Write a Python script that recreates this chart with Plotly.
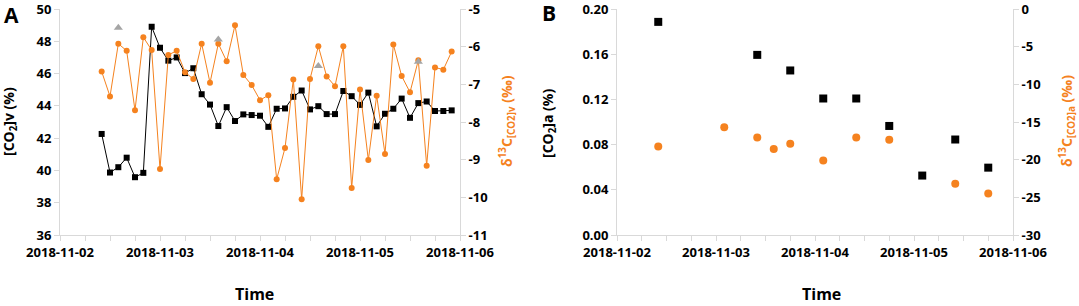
import plotly.graph_objects as go
import pandas as pd

# ---------------- Panel A data ----------------
a_times = pd.date_range("2018-11-02 10:00", "2018-11-05 22:00", freq="2h")
a_co2v = [42.26, 39.87, 40.2, 40.79, 39.58, 39.85, 48.9, 47.6, 46.8, 47.0,
          46.03, 46.33, 44.72, 44.08, 42.75, 43.92, 43.06, 43.47, 43.43, 43.39,
          42.7, 43.82, 43.84, 44.56, 44.95, 43.78, 43.98, 43.49, 43.49, 44.92,
          44.6, 44.06, 44.82, 42.73, 43.51, 43.82, 44.45, 43.26, 44.17, 44.27,
          43.68, 43.68, 43.72]
a_d13c = [-6.66, -7.32, -5.92, -6.11, -7.69, -5.75, -6.09, -9.25, -6.22, -6.11,
          -6.68, -6.86, -5.92, -6.96, -5.92, -6.39, -5.43, -6.75, -7.02, -7.42,
          -7.29, -9.52, -8.69, -6.87, -10.05, -6.86, -5.99, -6.79, -7.05, -5.99,
          -9.75, -7.14, -9.01, -7.30, -8.85, -5.94, -6.78, -7.21, -6.36, -9.16,
          -6.55, -6.61, -6.13]
tri_times = pd.to_datetime(["2018-11-02 14:00", "2018-11-03 14:00",
                            "2018-11-04 14:00", "2018-11-05 14:00"])
tri_vals = [-5.5, -5.81, -6.51, -6.40]

# ---------------- Panel B data ----------------
b_times = pd.to_datetime(["2018-11-02 10:00", "2018-11-03 02:00", "2018-11-03 10:00",
                          "2018-11-03 14:00", "2018-11-03 18:00", "2018-11-04 02:00",
                          "2018-11-04 10:00", "2018-11-04 18:00", "2018-11-05 02:00",
                          "2018-11-05 10:00", "2018-11-05 18:00"])
b_co2a = [0.1886, None, 0.1594, None, 0.1456, 0.1208, 0.1208, 0.0965, 0.0526,
          0.0845, 0.0596]
b_d13c = [-18.25, -15.7, -17.07, -18.6, -17.9, -20.1, -17.07, -17.37, None,
          -23.2, -24.5]

ORANGE = "#f5821f"
GRAY_AX = "#d9d9d9"
FONT = "Open Sans"

fig = go.Figure()
fig.add_trace(go.Scatter(x=a_times, y=a_co2v, mode="lines+markers",
                         line=dict(color="black", width=1),
                         marker=dict(symbol="square", size=6, color="black"),
                         xaxis="x", yaxis="y", showlegend=False))
fig.add_trace(go.Scatter(x=a_times, y=a_d13c, mode="lines+markers",
                         line=dict(color=ORANGE, width=1),
                         marker=dict(symbol="circle", size=6, color=ORANGE),
                         xaxis="x", yaxis="y2", showlegend=False))
fig.add_trace(go.Scatter(x=tri_times, y=tri_vals, mode="markers",
                         marker=dict(symbol="triangle-up", size=8, color="#a5a5a5"),
                         xaxis="x", yaxis="y2", showlegend=False))
fig.add_trace(go.Scatter(x=b_times, y=b_co2a, mode="markers",
                         marker=dict(symbol="square", size=8, color="black"),
                         xaxis="x2", yaxis="y3", showlegend=False))
fig.add_trace(go.Scatter(x=b_times, y=b_d13c, mode="markers",
                         marker=dict(symbol="circle", size=8, color=ORANGE),
                         xaxis="x2", yaxis="y4", showlegend=False))

W, H = 1079, 306
T, B = 9, 71
PH = H - T - B

def fx(px):
    return px / W

def fy(py):
    return (H - B - py) / PH

tickfont = dict(family=FONT, size=13, color="black", weight="bold")
common_ax = dict(showgrid=False, zeroline=False, showline=True, linecolor=GRAY_AX,
                 linewidth=1, ticks="outside", ticklen=5, tickcolor=GRAY_AX,
                 tickfont=tickfont, automargin=False, ticklabeloverflow="allow")
xcommon = dict(common_ax, type="date", range=["2018-11-02", "2018-11-06"],
               tickformat="%Y-%m-%d", dtick=86400000, tick0="2018-11-02",
               minor=dict(dtick=6 * 3600 * 1000, ticks="outside", ticklen=5,
                          tickcolor=GRAY_AX, showgrid=False))

fig.update_layout(
    width=W, height=H,
    margin=dict(l=0, r=0, t=T, b=B),
    plot_bgcolor="white", paper_bgcolor="white",
    xaxis=dict(xcommon, domain=[fx(60), fx(460)], anchor="y"),
    yaxis=dict(common_ax, range=[36, 50], dtick=2, anchor="x"),
    yaxis2=dict(common_ax, range=[-11, -5], overlaying="y", side="right",
                tickvals=[-11, -10, -9, -8, -7, -6, -5],
                ticktext=["-11", "-10", "-9", "-8", "-7", "-6", "-5"], anchor="x"),
    xaxis2=dict(xcommon, domain=[fx(617), fx(1013)], anchor="y3"),
    yaxis3=dict(common_ax, range=[0, 0.2], tickvals=[0, 0.04, 0.08, 0.12, 0.16, 0.2],
                ticktext=["0.00", "0.04", "0.08", "0.12", "0.16", "0.20"], anchor="x2"),
    yaxis4=dict(common_ax, range=[-30, 0], overlaying="y3", side="right",
                tickvals=[-30, -25, -20, -15, -10, -5, 0],
                ticktext=["-30", "-25", "-20", "-15", "-10", "-5", "0"], anchor="x2"),
)

def ann(text, x, y, size, color="black", angle=0):
    fig.add_annotation(text=text, x=fx(x), y=fy(y), xref="paper", yref="paper",
                       showarrow=False, textangle=angle, xanchor="center", yanchor="middle",
                       font=dict(family=FONT, size=size, color=color, weight="bold"))

ann("A", 11, 15, 21)
ann("B", 549, 13, 21)
ann("Time", 254, 294, 16)
ann("Time", 821, 294, 16)
ann("[CO<sub>2</sub>]v (%)", 9, 122, 14, angle=-90)
ann("δ<sup>13</sup>C<sub>[CO2]v</sub> (‰)", 507, 121, 14, color=ORANGE, angle=-90)
ann("[CO<sub>2</sub>]a (%)", 548, 124, 14, angle=-90)
ann("δ<sup>13</sup>C<sub>[CO2]a</sub> (‰)", 1067, 121, 14, color=ORANGE, angle=-90)

fig.write_html("out.html", config={"displayModeBar": False},
               post_script="document.body.style.margin='0';document.body.style.overflow='hidden';")
